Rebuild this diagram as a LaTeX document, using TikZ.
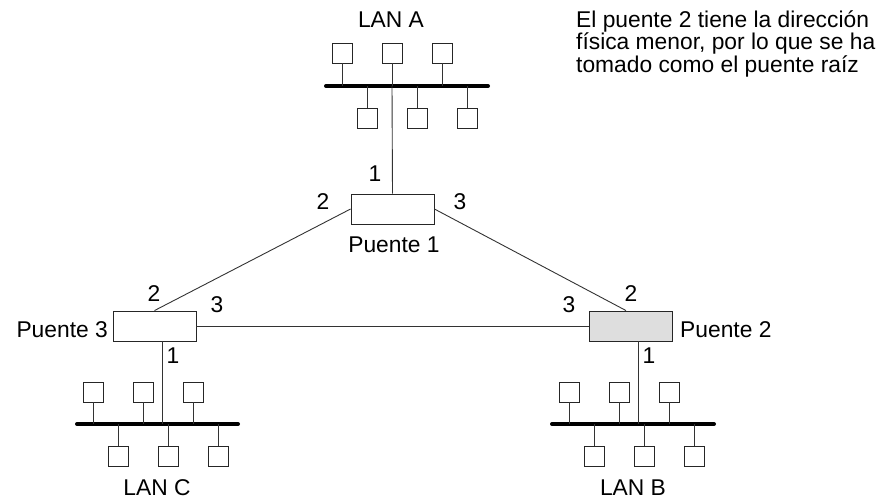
\documentclass[tikz,border=0pt]{standalone}
\usepackage{fontspec}
\setmainfont{Liberation Sans}
\begin{document}
\begin{tikzpicture}[x=1pt,y=-1pt,
  lbl/.style={font=\fontsize{22.8}{22.5}\selectfont, inner sep=0pt, anchor=base},
  bus/.style={line width=4pt, line cap=round},
  wire/.style={line width=0.9pt, draw=black!80},
  station/.style={draw=black!85, line width=0.9pt, minimum width=20pt, minimum height=20pt, inner sep=0pt, fill=white},
  bridge/.style={draw=black!85, line width=0.9pt, minimum width=83pt, minimum height=30pt, inner sep=0pt, fill=white},
  root/.style={bridge, fill=black!13}
]
\useasboundingbox (0,0) rectangle (886,499);

% ---------- bridges ----------
\node[bridge] (p1) at (392.5,209) {};
\node[bridge] (p3) at (154.5,326) {};
\node[root]   (p2) at (630.5,326) {};

% ---------- LAN A ----------
\coordinate (aL) at (326,86);
\coordinate (aR) at (488,86);
\draw[bus] (aL) -- (aR);
\foreach \x/\n in {342/1,392/2,442/3}{
  \node[station] (at\n) at (\x,53) {};
  \draw[wire] (at\n.south) -- (\x,86);
}
\foreach \x/\n in {367/1,417/2,467/3}{
  \node[station] (ab\n) at (\x,118) {};
  \draw[wire] (ab\n.north) -- (\x,86);
}
\coordinate (aTap) at (392,86);
\draw[wire] (aTap) -- (p1.north);

% ---------- LAN C ----------
\coordinate (cL) at (77,424);
\coordinate (cR) at (238,424);
\draw[bus] (cL) -- (cR);
\foreach \x/\n in {93/1,143/2,193/3}{
  \node[station] (ct\n) at (\x,392) {};
  \draw[wire] (ct\n.south) -- (\x,424);
}
\foreach \x/\n in {118/1,168/2,218/3}{
  \node[station] (cb\n) at (\x,456.5) {};
  \draw[wire] (cb\n.north) -- (\x,424);
}
\coordinate (cTap) at (162,424);
\draw[wire] (cTap) -- (cTap |- p3.south);

% ---------- LAN B ----------
\coordinate (bL) at (552,424);
\coordinate (bR) at (714,424);
\draw[bus] (bL) -- (bR);
\foreach \x/\n in {569/1,619/2,669/3}{
  \node[station] (bt\n) at (\x,392) {};
  \draw[wire] (bt\n.south) -- (\x,424);
}
\foreach \x/\n in {594/1,644/2,694/3}{
  \node[station] (bb\n) at (\x,456.5) {};
  \draw[wire] (bb\n.north) -- (\x,424);
}
\coordinate (bTap) at (638,424);
\draw[wire] (bTap) -- (bTap |- p2.south);

% ---------- links between bridges ----------
\draw[wire] (p1.west) -- (p3.north);
\draw[wire] (p1.east) -- ([xshift=-4.5pt]p2.north);
\draw[wire] (p3.east) -- (p2.west);

% ---------- port numbers ----------
\node[lbl] (n11) at (375,181) {1};
\node[lbl] (n12) at (323,209) {2};
\node[lbl] (n13) at (460,209) {3};
\node[lbl] (n32) at (154,301) {2};
\node[lbl] (n33) at (217,312) {3};
\node[lbl] (n31) at (173,363) {1};
\node[lbl] (n23) at (569,312) {3};
\node[lbl] (n22) at (631,301) {2};
\node[lbl] (n21) at (649,363) {1};

% ---------- names ----------
\node[lbl] (tA) at (391,27) {LAN A};
\node[lbl] (tB) at (633,495) {LAN B};
\node[lbl] (tC) at (157,495) {LAN C};
\node[lbl] (tP1) at (394,252) {Puente 1};
\node[lbl, anchor=base east] (tP3) at (108,337) {Puente 3};
\node[lbl, anchor=base west] (tP2) at (680,337) {Puente 2};

% ---------- note ----------
\node[lbl, anchor=base west] (note1) at (576,27) {El puente 2 tiene la dirección};
\node[lbl, anchor=base west] (note2) at (576,49.5) {física menor, por lo que se ha};
\node[lbl, anchor=base west] (note3) at (576,72) {tomado como el puente raíz};
\end{tikzpicture}
\end{document}
